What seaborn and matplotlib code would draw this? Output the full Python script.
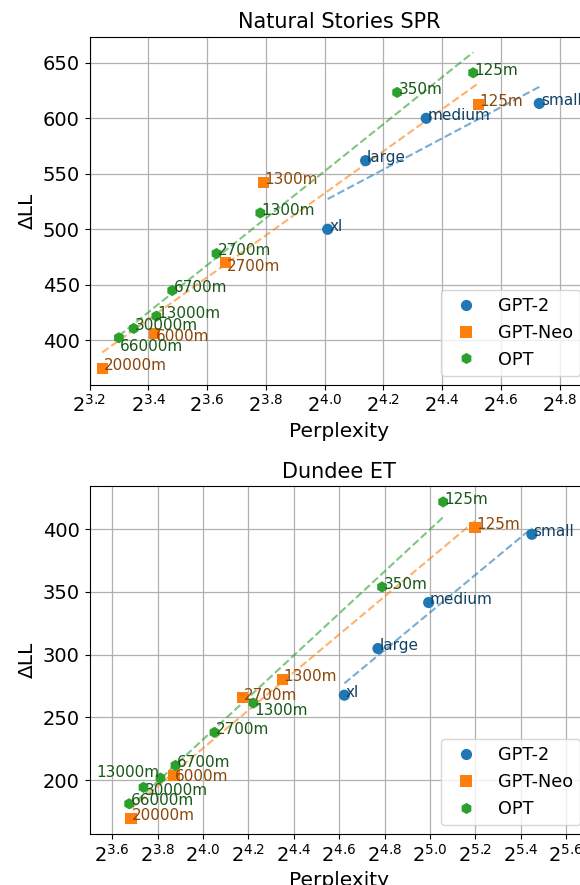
import numpy as np
import pandas as pd
import matplotlib
matplotlib.use("Agg")
import matplotlib.pyplot as plt
from matplotlib.ticker import FixedLocator, FuncFormatter, NullLocator
import seaborn as sns

# ---------------- data ----------------
families = ["GPT-2", "GPT-Neo", "OPT"]
family_colors = ["#1f77b4", "#ff7f0e", "#2ca02c"]
family_markers = ["o", "s", "h"]

gpt2_labels = ["small", "medium", "large", "xl"]
neo_labels = ["125m", "1300m", "2700m", "6000m", "20000m"]
opt_labels = ["125m", "350m", "1300m", "2700m", "6700m", "13000m", "30000m", "66000m"]

# Natural Stories SPR
spr_gpt2_ppl = [26.56, 20.34, 17.63, 16.12]
spr_gpt2_dll = [613.4, 600.0, 561.8, 500.0]
spr_neo_ppl = [22.99, 13.85, 12.66, 10.72, 9.47]
spr_neo_dll = [612.2, 542.0, 470.0, 406.0, 374.3]
spr_opt_ppl = [22.72, 18.99, 13.75, 12.40, 11.17, 10.76, 10.20, 9.85]
spr_opt_dll = [641.0, 623.3, 514.7, 478.1, 444.8, 421.7, 410.6, 402.2]

# Dundee ET
dun_gpt2_ppl = [43.68, 31.87, 27.30, 24.64]
dun_gpt2_dll = [396.0, 341.6, 304.9, 267.7]
dun_neo_ppl = [36.71, 20.38, 18.06, 14.64, 12.84]
dun_neo_dll = [401.6, 280.0, 265.6, 203.5, 169.2]
dun_opt_ppl = [33.31, 27.64, 18.66, 16.57, 14.71, 14.05, 13.34, 12.77]
dun_opt_dll = [421.8, 354.0, 261.4, 238.0, 211.7, 201.6, 194.2, 181.1]

spr_title = "Natural Stories SPR"
dun_title = "Dundee ET"
spr_xtick_exp = [3.2, 3.4, 3.6, 3.8, 4.0, 4.2, 4.4, 4.6, 4.8]
dun_xtick_exp = [3.6, 3.8, 4.0, 4.2, 4.4, 4.6, 4.8, 5.0, 5.2, 5.4, 5.6]
spr_yticks = [400, 450, 500, 550, 600, 650]
dun_yticks = [200, 250, 300, 350, 400]


def make_df(g_ppl, g_dll, n_ppl, n_dll, o_ppl, o_dll):
    rows = []
    for fam, labs, ppl, dll in [("GPT-2", gpt2_labels, g_ppl, g_dll),
                                ("GPT-Neo", neo_labels, n_ppl, n_dll),
                                ("OPT", opt_labels, o_ppl, o_dll)]:
        for l, p, d in zip(labs, ppl, dll):
            rows.append(dict(family=fam, label=l, Perplexity=p, dLL=d))
    return pd.DataFrame(rows)


spr_df = make_df(spr_gpt2_ppl, spr_gpt2_dll, spr_neo_ppl, spr_neo_dll, spr_opt_ppl, spr_opt_dll)
dun_df = make_df(dun_gpt2_ppl, dun_gpt2_dll, dun_neo_ppl, dun_neo_dll, dun_opt_ppl, dun_opt_dll)

# label nudges (points): (dx, dy, ha)
default_nudge = (1.0, 2.0, "left")
label_nudge = {
    ("top", "GPT-Neo", "2700m"): (1.0, -3.0, "left"),
    ("top", "GPT-Neo", "6000m"): (1.0, -2.0, "left"),
    ("top", "OPT", "66000m"): (1.0, -6.0, "left"),
    ("top", "OPT", "2700m"): (1.0, 2.5, "left"),
    ("bottom", "GPT-Neo", "6000m"): (1.0, -0.7, "left"),
    ("bottom", "OPT", "1300m"): (1.0, -5.0, "left"),
    ("bottom", "OPT", "13000m"): (-1.0, 4.0, "right"),
    ("bottom", "OPT", "30000m"): (1.0, -2.4, "left"),
}

# ---------------- figure ----------------
plt.rcParams["font.family"] = ["DejaVu Sans"]
plt.rcParams["mathtext.fontset"] = "dejavusans"

fig = plt.figure(figsize=(5.8, 8.85), dpi=100)
ax_top = fig.add_axes([89.5 / 580, 1 - 384.5 / 885, 499.4 / 580, 348.0 / 885])
ax_bot = fig.add_axes([89.5 / 580, 1 - 834.0 / 885, 499.4 / 580, 348.0 / 885])

pal = dict(zip(families, family_colors))
mk = dict(zip(families, family_markers))


def dark(c, f=0.55):
    r, g, b = matplotlib.colors.to_rgb(c)
    return (r * f, g * f, b * f)


def draw(ax, df, panel, title, xexp, yticks, xlim_exp, ylim):
    ax.set_axisbelow(True)
    for fam in families:
        sub = df[df.family == fam]
        sns.regplot(x=sub.Perplexity.values, y=sub.dLL.values, logx=True, ci=None,
                    scatter=False, truncate=True, color=pal[fam], ax=ax,
                    line_kws=dict(ls="--", lw=1.5, alpha=0.6))
    sns.scatterplot(data=df, x="Perplexity", y="dLL", hue="family", style="family",
                    hue_order=families, style_order=families, palette=pal, markers=mk,
                    s=65, linewidth=0, ax=ax, zorder=3)
    for _, r in df.iterrows():
        dx, dy, ha = label_nudge.get((panel, r.family, r.label), default_nudge)
        ax.annotate(r.label, (r.Perplexity, r.dLL), xytext=(dx, dy), textcoords="offset points",
                    ha=ha, va="center", fontsize=11, color=dark(pal[r.family]), zorder=4)
    ax.set_xscale("log", base=2)
    ax.set_xlim(2 ** xlim_exp[0], 2 ** xlim_exp[1])
    ax.set_ylim(*ylim)
    ax.xaxis.set_major_locator(FixedLocator([2 ** e for e in xexp]))
    ax.xaxis.set_minor_locator(NullLocator())
    ax.xaxis.set_major_formatter(FuncFormatter(
        lambda v, p: r"$\mathdefault{2^{%.1f}}$" % np.log2(v)))
    ax.set_yticks(yticks)
    ax.tick_params(labelsize=14)
    ax.grid(True, color="#b0b0b0", lw=0.9)
    ax.set_xlabel("Perplexity", fontsize=14.5)
    ax.set_ylabel("ΔLL", fontsize=14.5)
    ax.set_title(title, fontsize=15)
    sns.move_legend(ax, "lower right", title=None, fontsize=12.7)


draw(ax_top, spr_df, "top", spr_title, spr_xtick_exp, spr_yticks, (3.2, 4.9), (360.1, 673.7))
draw(ax_bot, dun_df, "bottom", dun_title, dun_xtick_exp, dun_yticks, (3.5, 5.7), (157.0, 434.5))

fig.savefig("out.png", dpi=100)
